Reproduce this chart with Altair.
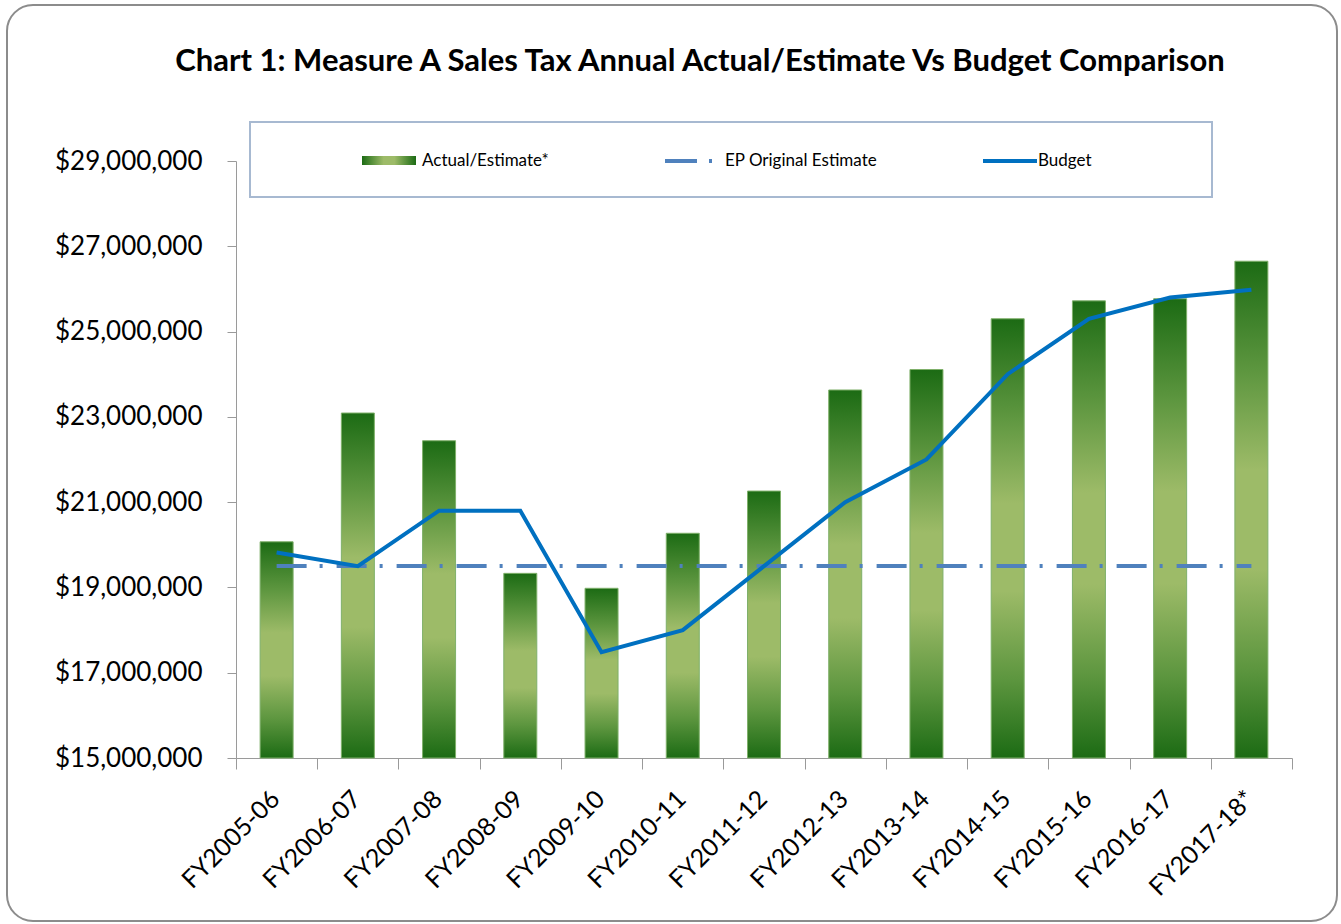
import altair as alt
import pandas as pd

categories = ["FY2005-06", "FY2006-07", "FY2007-08", "FY2008-09", "FY2009-10",
              "FY2010-11", "FY2011-12", "FY2012-13", "FY2013-14", "FY2014-15",
              "FY2015-16", "FY2016-17", "FY2017-18*"]
actual = [20070000, 23090000, 22440000, 19330000, 18980000, 20270000, 21260000,
          23630000, 24110000, 25300000, 25720000, 25770000, 26650000]
budget = [19820000, 19500000, 20800000, 20800000, 17480000, 18000000, 19500000,
          21000000, 22000000, 24000000, 25300000, 25800000, 25980000]
ep_estimate = [19500000, 19500000, 19500000, 19500000, 19500000, 19500000, 19500000,
               19500000, 19500000, 19500000, 19500000, 19500000, 19500000]
y_ticks = [15000000, 17000000, 19000000, 21000000, 23000000, 25000000, 27000000, 29000000]
legend_labels = ["Actual/Estimate*", "EP Original Estimate", "Budget"]
title_text = "Chart 1: Measure A Sales Tax Annual Actual/Estimate Vs Budget Comparison"

df = pd.DataFrame({"cat": categories, "actual": actual, "budget": budget, "ep": ep_estimate})

FONT = "Lato"
W, H = 1056, 597
Y_MIN, Y_MAX = 15000000, 29000000

xenc = alt.X("cat:N", sort=categories, title=None,
             scale=alt.Scale(paddingInner=0, paddingOuter=0),
             axis=alt.Axis(labelAngle=-45, labelFontSize=25, labelColor="#000000",
                           labelFont=FONT, tickBand="extent", tickSize=11,
                           tickColor="#9a9a9a", domainColor="#9a9a9a", labelPadding=17,
                           labelOffset=-10))
yscale = alt.Scale(domain=[Y_MIN, Y_MAX], nice=False, zero=False)

bar_grad = alt.Gradient(
    gradient="linear", x1=0, x2=0, y1=0, y2=1,
    stops=[alt.GradientStop(color="#1c6b14", offset=0),
           alt.GradientStop(color="#5d963f", offset=0.22),
           alt.GradientStop(color="#9dbb68", offset=0.42),
           alt.GradientStop(color="#9dbb68", offset=0.62),
           alt.GradientStop(color="#5d963f", offset=0.82),
           alt.GradientStop(color="#1c6b14", offset=1)])

base = alt.Chart(df)

bars = base.mark_bar(size=33, fill=bar_grad, stroke="#7fb06a", strokeWidth=1).encode(
    x=xenc,
    y=alt.Y("actual:Q", scale=yscale, title=None,
            axis=alt.Axis(values=y_ticks, format="$,.0f", labelFontSize=26, labelFont=FONT,
                          labelColor="#000000", tickSize=9, tickColor="#9a9a9a",
                          domainColor="#9a9a9a", labelPadding=25, grid=False)),
    y2=alt.datum(Y_MIN),
)

ep_line = base.mark_line(color="#4f81bd", strokeWidth=4, strokeDash=[30, 13, 3, 14]).encode(
    x=alt.X("cat:N", sort=categories), y=alt.Y("ep:Q", scale=yscale))

budget_line = base.mark_line(color="#0070c0", strokeWidth=4).encode(
    x=alt.X("cat:N", sort=categories), y=alt.Y("budget:Q", scale=yscale))

# ---- outer rounded frame, title and legend box (decoration) ----
one = pd.DataFrame({"k": [0]})
frame = alt.Chart(one).mark_rect(
    fill=None, stroke="#8c8c8c", strokeWidth=2, cornerRadius=26).encode(
    x=alt.value(-229), x2=alt.value(1101), y=alt.value(-156), y2=alt.value(760))

title = alt.Chart(pd.DataFrame({"t": [title_text]})).mark_text(
    align="center", baseline="alphabetic", font=FONT, fontSize=31, fontWeight="bold",
    color="#000000").encode(x=alt.value(464), y=alt.value(-90), text="t:N")

legend_box = alt.Chart(one).mark_rect(
    fill="white", stroke="#a7b9d1", strokeWidth=2).encode(
    x=alt.value(14), x2=alt.value(976), y=alt.value(-39), y2=alt.value(36))

leg_grad = alt.Gradient(
    gradient="linear", x1=0, x2=1, y1=0, y2=0,
    stops=[alt.GradientStop(color="#1c6b14", offset=0),
           alt.GradientStop(color="#9dbb68", offset=0.4),
           alt.GradientStop(color="#9dbb68", offset=0.6),
           alt.GradientStop(color="#1c6b14", offset=1)])

leg_bar = alt.Chart(one).mark_rect(fill=leg_grad).encode(
    x=alt.value(126), x2=alt.value(180), y=alt.value(-5), y2=alt.value(4))

leg_ep = alt.Chart(one).mark_rule(
    color="#4f81bd", strokeWidth=4, strokeDash=[32, 12, 3, 200]).encode(
    x=alt.value(429), x2=alt.value(478), y=alt.value(0))

leg_budget = alt.Chart(one).mark_rule(
    color="#0070c0", strokeWidth=4).encode(
    x=alt.value(747), x2=alt.value(801), y=alt.value(0))

leg_df = pd.DataFrame({"label": legend_labels, "px": [186, 489, 802]})
leg_text = alt.Chart(leg_df).mark_text(
    align="left", baseline="middle", fontSize=17, font=FONT, color="#000000").encode(
    x=alt.X("px:Q", scale=None), y=alt.value(0), text="label:N")

chart = alt.layer(
    frame, title, bars, ep_line, budget_line, legend_box, leg_bar, leg_ep, leg_budget, leg_text
).properties(
    width=W, height=H,
    background="white",
    autosize=alt.AutoSizeParams(type="none"),
    padding={"left": 236, "top": 161, "right": 49, "bottom": 166},
).configure_view(strokeWidth=0, stroke="transparent")

chart.save("out.html", embed_options={"renderer": "svg", "actions": False})
